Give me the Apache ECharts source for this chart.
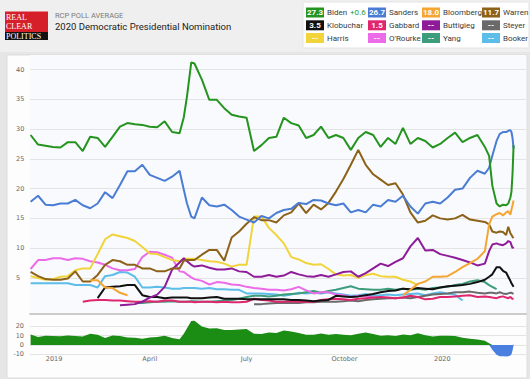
<!DOCTYPE html>
<html><head><meta charset="utf-8">
<script src="https://cdn.jsdelivr.net/npm/echarts@6/dist/echarts.min.js"></script>
<style>html,body{margin:0;padding:0;background:#e6e6e6;}#c{width:530px;height:379px;}</style>
</head><body><div id="c"></div>
<script>
// ---- data ----
const dates = [
 '2018-12-10','2018-12-17','2018-12-24','2018-12-31','2019-01-07','2019-01-14','2019-01-21','2019-01-28','2019-02-04','2019-02-11',
 '2019-02-18','2019-02-25','2019-03-04','2019-03-11','2019-03-18','2019-03-25','2019-04-01','2019-04-08','2019-04-15','2019-04-22',
 '2019-04-29','2019-05-03','2019-05-06','2019-05-10','2019-05-13','2019-05-20','2019-05-27','2019-06-03','2019-06-10','2019-06-17',
 '2019-06-24','2019-07-01','2019-07-08','2019-07-15','2019-07-22','2019-07-29','2019-08-05','2019-08-12','2019-08-19','2019-08-26',
 '2019-09-02','2019-09-09','2019-09-16','2019-09-23','2019-09-30','2019-10-07','2019-10-14','2019-10-21','2019-10-28','2019-11-04',
 '2019-11-11','2019-11-18','2019-11-25','2019-12-02','2019-12-09','2019-12-16','2019-12-23','2019-12-30','2020-01-06','2020-01-13',
 '2020-01-20','2020-01-27','2020-02-03','2020-02-10','2020-02-14','2020-02-17','2020-02-21','2020-02-24','2020-02-27','2020-03-01',
 '2020-03-03','2020-03-05','2020-03-06','2020-03-07','2020-03-08'];

const biden = [29.0,27.4,27.2,27.0,26.9,27.8,27.8,26.3,28.7,28.5,
 27.0,28.7,30.4,31.0,30.8,30.7,30.4,30.3,31.3,29.5,
 29.3,32.0,35.5,41.2,41.0,38.3,34.9,34.9,33.5,32.4,
 32.1,31.9,26.3,27.3,28.5,28.7,31.9,31.0,30.6,28.5,
 29.0,30.4,28.5,29.0,28.5,26.5,28.5,29.5,29.0,27.0,
 28.5,27.5,30.2,27.5,28.5,28.0,26.9,27.5,28.5,29.4,
 27.8,28.5,29.0,27.0,25.5,20.5,17.5,17.0,17.3,17.2,
 17.5,18.5,19.5,22.5,27.3];
const sanders = [17.8,18.8,17.3,17.2,17.5,17.5,18.1,17.2,16.7,17.5,
 19.4,18.4,20.6,22.9,22.9,24.0,22.3,21.8,21.3,22.0,
 23.0,19.8,17.5,15.3,15.0,18.5,17.2,17.0,17.3,16.4,
 15.3,14.8,14.3,15.4,15.0,15.9,16.4,16.6,17.6,17.4,
 18.1,18.0,17.5,17.2,17.5,16.0,16.4,16.0,17.3,17.0,
 18.1,17.8,18.8,17.0,15.8,17.5,17.8,17.5,18.5,19.8,
 20.0,21.8,23.0,22.5,23.5,25.5,28.0,29.2,29.5,29.5,
 29.7,29.8,29.5,28.5,26.7];
const warren = [6.0,5.3,4.8,4.7,4.7,4.9,6.1,4.4,4.4,5.5,
 7.2,8.0,7.8,7.2,7.2,6.6,6.6,6.1,6.1,6.6,
 6.6,7.9,8.0,8.0,8.0,8.9,9.7,9.7,7.9,11.8,
 12.8,14.1,15.2,14.7,14.7,14.3,15.5,16.0,17.5,15.9,
 17.3,16.5,17.6,19.5,21.6,24.0,26.5,24.0,22.4,21.5,
 20.6,20.9,19.0,16.0,14.3,14.6,15.5,15.0,14.8,15.0,
 15.6,14.8,14.6,14.4,14.0,12.8,12.6,12.8,12.7,12.2,
 13.6,12.5,12.2,11.9,11.7];
const harris = [5.3,5.0,4.7,4.8,5.2,5.3,6.3,6.6,6.6,9.0,
 11.5,12.3,12.0,11.7,11.2,10.2,9.1,9.0,8.5,8.0,
 7.8,8.2,8.2,8.2,8.2,8.0,7.8,7.7,7.4,6.9,
 7.2,7.2,15.3,15.3,13.4,12.2,10.8,8.5,8.1,7.5,
 7.2,7.3,6.5,5.6,5.4,5.5,5.0,5.5,5.7,5.3,
 5.2,5.2,4.7,4.4,3.8,null,null,null,null,null,
 null,null,null,null,null,null,null,null,null,null,
 null,null,null,null,null];
const bloomberg = [null,null,null,null,null,null,null,null,4.6,4.6,
 3.4,3.3,2.5,2.1,null,null,null,null,null,null,
 null,null,null,null,null,null,null,null,null,null,
 null,null,null,null,null,null,null,null,null,null,
 null,null,null,null,null,null,null,null,null,null,
 null,null,2.1,3.0,4.0,4.4,5.2,5.2,5.3,6.0,
 6.8,7.5,8.2,9.5,14.0,15.3,15.7,15.9,15.5,16.0,
 16.2,15.6,16.5,17.2,18.0];
const buttigieg = [null,null,null,null,null,null,null,null,null,null,
 null,null,0.4,0.5,0.6,1.0,1.7,2.2,3.5,6.4,
 7.6,8.3,7.8,7.2,6.9,7.1,6.7,6.4,6.4,6.6,
 6.1,6.0,5.2,5.2,5.5,5.2,5.4,6.0,5.6,5.3,
 5.2,5.5,5.2,5.6,6.0,6.1,5.2,5.8,6.6,7.4,
 7.0,7.7,8.3,10.3,11.7,9.6,9.7,9.0,8.7,8.4,
 8.0,7.6,7.1,7.4,9.5,10.6,10.8,10.6,10.5,10.8,
 11.2,11.0,10.5,10.0,10.2];
const orourke = [6.5,8.0,8.0,8.3,8.3,8.0,8.3,8.2,7.8,7.6,
 7.2,6.6,6.3,6.3,6.5,8.5,9.4,9.3,8.9,8.4,
 6.1,6.0,5.6,5.1,4.8,4.5,3.9,4.3,4.2,3.9,
 3.8,3.5,3.3,3.2,3.0,3.0,2.9,3.1,3.5,2.9,
 2.4,2.6,2.6,2.2,2.1,1.8,2.0,2.0,1.7,null,
 null,null,null,null,null,null,null,null,null,null,
 null,null,null,null,null,null,null,null,null,null,
 null,null,null,null,null];
const booker = [4.1,4.1,4.1,4.1,4.1,4.1,3.8,3.8,3.8,3.4,
 5.3,5.5,6.0,5.9,5.2,3.4,3.4,3.5,3.4,3.2,
 3.2,3.3,3.3,3.3,3.3,3.2,3.3,3.1,3.1,3.0,
 3.0,2.4,2.4,2.4,2.3,2.2,2.0,2.2,2.5,2.4,
 2.5,2.4,2.6,2.4,2.2,2.0,2.1,2.3,2.0,2.1,
 2.2,2.1,2.2,2.3,2.4,2.1,2.4,2.6,2.4,2.2,
 1.2,null,null,null,null,null,null,null,null,null,
 null,null,null,null,null];
const klobuchar = [null,null,null,null,null,null,null,null,null,1.6,
 3.4,3.5,3.6,3.8,3.8,2.1,1.8,1.8,1.6,1.7,
 1.7,1.7,1.7,1.6,1.6,1.6,1.7,1.8,1.5,1.5,
 1.5,1.4,1.4,1.4,1.4,1.4,1.4,1.3,1.3,1.2,
 1.1,1.2,1.3,2.0,1.9,1.8,1.9,2.1,2.3,2.6,
 2.8,2.9,3.2,3.1,3.3,3.2,3.1,3.4,3.6,3.7,
 3.8,4.0,4.3,4.7,5.2,5.6,6.8,6.8,6.2,5.9,
 5.2,4.5,4.1,3.8,3.5];
const gabbard = [null,null,null,null,null,null,null,1.0,1.2,1.3,
 1.3,1.2,1.2,1.1,1.0,1.0,1.1,1.0,1.2,1.2,
 1.0,1.0,1.0,1.0,0.9,1.0,1.0,0.9,1.0,0.9,
 0.9,1.0,1.5,1.3,1.2,1.0,1.0,1.1,1.0,1.0,
 1.0,1.3,1.4,1.5,1.4,1.3,1.5,1.6,1.7,1.8,
 1.7,1.6,1.7,2.0,1.8,1.4,1.5,1.8,1.8,1.9,
 2.0,2.1,1.8,1.9,1.8,1.7,1.6,1.8,1.9,1.7,
 1.6,1.8,1.6,1.5,1.5];
const yang = [null,null,null,null,null,null,null,null,null,null,
 null,null,null,null,0.8,0.8,0.9,1.0,1.0,1.1,
 1.0,1.0,1.0,1.1,1.1,1.0,1.0,1.1,1.2,1.3,
 1.5,1.8,2.0,2.0,1.9,2.0,2.2,2.3,2.4,2.6,
 2.8,2.5,2.8,3.0,3.3,3.6,3.2,3.1,3.0,3.0,
 3.2,3.0,3.2,3.0,3.2,3.0,3.3,3.4,3.5,3.8,
 4.0,4.4,4.6,4.3,3.8,3.5,3.1,null,null,null,
 null,null,null,null,null];
const steyer = [null,null,null,null,null,null,null,null,null,null,
 null,null,null,null,null,null,null,null,null,null,
 null,null,null,null,null,null,null,null,null,null,
 null,null,0.6,0.6,0.7,0.8,0.8,0.8,0.8,0.9,
 0.9,1.0,1.0,1.0,1.1,1.2,1.1,1.3,1.4,1.5,
 1.6,1.6,1.7,1.6,1.8,2.0,2.2,2.3,2.4,2.6,
 2.6,2.7,2.5,2.4,2.5,2.5,2.4,2.6,2.4,2.3,
 2.4,2.5,2.5,2.4,2.4];

const xTickDates = ['2019-01-01','2019-04-01','2019-07-01','2019-10-01','2020-01-01'];
const xTickLabels = ['2019','April','July','October','2020'];

const legendNames  = ['Biden','Sanders','Bloomberg','Warren','Klobuchar','Gabbard','Buttigieg','Steyer','Harris',"O'Rourke",'Yang','Booker'];
const legendValues = ['27.3','26.7','18.0','11.7','3.5','1.5','--','--','--','--','--','--'];
const bidenSpreadLabel = '+0.6';

// ---- styles ----
const colors = {
  'Biden':'#24941f','Sanders':'#4a7cd4','Bloomberg':'#f4a532','Warren':'#8c6118',
  'Klobuchar':'#111111','Gabbard':'#e0266f','Buttigieg':'#8e1c99','Steyer':'#6a6a6a',
  'Harris':'#f1d33a','O\'Rourke':'#ec6be8','Yang':'#3c9c7c','Booker':'#5dbde9'
};
const drawOrder = [
  ['Booker',booker],['Yang',yang],['Steyer',steyer],["O'Rourke",orourke],['Harris',harris],
  ['Gabbard',gabbard],['Klobuchar',klobuchar],['Buttigieg',buttigieg],['Warren',warren],
  ['Bloomberg',bloomberg],['Sanders',sanders],['Biden',biden]
];

// Biden lead over Sanders (lower panel), split into lead / deficit parts
const spread = biden.map((b,i)=> Math.round((b - sanders[i])*10)/10);
const spreadLead = spread.map(v => v > 0 ? v : 0);
const spreadDeficit = spread.map(v => v < 0 ? v : 0);

const chart = echarts.init(document.getElementById('c'), null, {renderer:'svg', width:530, height:379});

const ts = s => echarts.time.parse(s).getTime();
const dateTs = dates.map(ts);
const tickTs = xTickDates.map(ts);
function xLabel(v){
  for (let i=0;i<tickTs.length;i++){ if (Math.abs(tickTs[i]-v) < 43200000) return xTickLabels[i]; }
  return '';
}

const xMin = ts('2018-12-09 10:00:00');
const xMax = ts('2020-03-19 16:00:00');

const series = drawOrder.map(([name, arr]) => ({
  name, type:'line', xAxisIndex:0, yAxisIndex:0,
  data: dateTs.map((d,i)=>[d, arr[i]]),
  showSymbol:false, symbol:'none', clip:false, connectNulls:false,
  lineStyle:{width:2, color:colors[name]}, itemStyle:{color:colors[name]},
  animation:false
}));
[[spreadLead,'#1b8c14'],[spreadDeficit,'#4a7fe0']].forEach(([arr,col]) => series.push({
  type:'line', xAxisIndex:1, yAxisIndex:1,
  data: dateTs.map((d,i)=>[d, arr[i]]),
  showSymbol:false, symbol:'none', clip:false,
  lineStyle:{width:0, color:col}, itemStyle:{color:col},
  areaStyle:{opacity:1, color:col, origin:0},
  animation:false
}));

// graphic elements (header, logo, legend)
const fontUI = 'Roboto, "Liberation Sans", Arial, sans-serif';
const T = (text, x, y, fill, font, align) => ({type:'text', silent:true,
  style:{text, x, y, fill, font, align:align||'left', verticalAlign:'middle', textAlign:align||'left', textVerticalAlign:'middle'}});
const g = [];
g.push({type:'rect', shape:{x:0,y:0,width:530,height:52}, style:{fill:'#efefef'}, silent:true, z:-20});
g.push({type:'rect', shape:{x:7,y:55,width:520,height:323}, style:{fill:'#fdfdfe', stroke:'#dddddd', lineWidth:1}, silent:true, z:-20});
g.push({type:'rect', shape:{x:30,y:55,width:496,height:259}, style:{fill:'#f9fafd'}, silent:true, z:-19});
// logo
g.push({type:'rect', shape:{x:5,y:11.5,width:43,height:20.5}, style:{fill:'#d5202a'}, silent:true});
g.push({type:'rect', shape:{x:5,y:32,width:43,height:8}, style:{fill:'#121212'}, silent:true});
const logoLines = [['REAL',17],['CLEAR',26],['POLITICS',36]];
logoLines.forEach(([t,y])=>g.push(T(t, 6, y, '#ffffff', '8px "Liberation Serif", "DejaVu Serif", serif')));
// titles
g.push(T('RCP POLL AVERAGE', 55, 15.5, '#7a7a7a', '7.5px '+fontUI));
g.push(T('2020 Democratic Presidential Nomination', 55, 26.5, '#222222', '9.5px '+fontUI));
// legend box
g.push({type:'rect', shape:{x:303,y:2,width:226,height:46}, style:{fill:'#ffffff', stroke:'#e4e4e4'}, silent:true});
const colX = [306, 368, 422, 482];
const rowY = [7.5, 20.3, 33];
legendNames.forEach((nm, i) => {
  const cx = colX[i % 4], ry = rowY[Math.floor(i / 4)];
  g.push({type:'rect', shape:{x:cx, y:ry, width:18, height:10}, style:{fill:colors[nm]}, silent:true});
  g.push(T(legendValues[i], cx+9, ry+5.3, '#ffffff', 'bold 8px '+fontUI, 'center'));
  g.push(T(nm, cx+21, ry+5, '#3a3a3a', '8px '+fontUI));
});
g.push(T(bidenSpreadLabel, 350, rowY[0]+5, '#2f9a2a', '8px '+fontUI));

const axisFont = {fontFamily:'"DejaVu Sans", Verdana, sans-serif', fontSize:6.5, color:'#666666'};

chart.setOption({
  animation:false,
  backgroundColor:'#e6e6e6',
  graphic:{elements:g},
  grid:[
    {left:30, right:4, top:69.5, height:238.2},
    {left:30, right:4, top:326.4, height:27.9}
  ],
  xAxis:[
    {type:'value', gridIndex:0, min:xMin, max:xMax, offset:6.3,
     axisLine:{show:true, onZero:false, lineStyle:{color:'#cccccc', width:2}},
     axisTick:{show:false}, axisLabel:{show:false}, splitLine:{show:false}},
    {type:'value', gridIndex:1, min:xMin, max:xMax,
     axisLine:{show:false}, axisTick:{show:false}, splitLine:{show:false},
     axisLabel:Object.assign({show:true, margin:1, customValues:tickTs, formatter:xLabel, hideOverlap:false}, axisFont)}
  ],
  yAxis:[
    {type:'value', gridIndex:0, min:0, max:40, interval:5,
     axisLine:{show:false}, axisTick:{show:false},
     axisLabel:Object.assign({align:'left', margin:14, showMinLabel:false}, axisFont),
     splitLine:{show:true, showMinLine:false, lineStyle:{color:'#e4e4e4', width:1}}},
    {type:'value', gridIndex:1, min:-10, max:20, interval:10,
     axisLine:{show:false}, axisTick:{show:false},
     axisLabel:Object.assign({align:'right', margin:6}, axisFont),
     splitLine:{show:true, lineStyle:{color:'#e4e4e4', width:1}}}
  ],
  series
});
</script></body></html>
